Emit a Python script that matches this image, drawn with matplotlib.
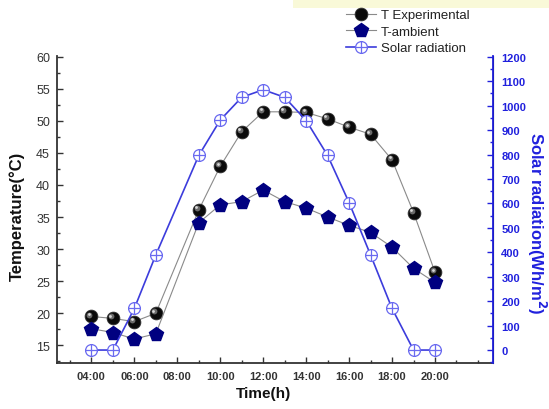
import matplotlib
matplotlib.use("Agg")
import matplotlib.pyplot as plt
import numpy as np
from matplotlib.path import Path
from matplotlib.patches import Rectangle
from matplotlib.ticker import MultipleLocator, FixedLocator
import matplotlib.transforms as mtransforms

plt.rcParams['font.family'] = ['Liberation Sans', 'DejaVu Sans']

# ---- data ----
hours = [4, 5, 6, 7, 9, 10, 11, 12, 13, 14, 15, 16, 17, 18, 19, 20]
t_exp = [19.5, 19.2, 18.7, 20.0, 36.1, 42.9, 48.3, 51.4, 51.4, 51.3, 50.3, 49.0, 47.9, 43.9, 35.7, 26.4]
t_amb = [17.6, 17.0, 16.0, 16.8, 34.1, 36.9, 37.4, 39.2, 37.4, 36.4, 35.0, 33.7, 32.6, 30.3, 27.0, 24.8]
solar = [0, 0, 170, 389, 796, 941, 1034, 1065, 1034, 939, 796, 603, 389, 170, 0, 0]
xtick_pos = [4, 6, 8, 10, 12, 14, 16, 18, 20]
xtick_labels = ['04:00', '06:00', '08:00', '10:00', '12:00', '14:00', '16:00', '18:00', '20:00']

BLUE = '#2020dd'
LINEBLUE = '#3c3cdc'
MKBLUE = '#6a6af0'
NAVY = '#000080'

fig = plt.figure(figsize=(5.49, 4.10), dpi=100)
fig.patches.append(Rectangle((293/549, 401/410), 256/549, 9/410, transform=fig.transFigure,
                             facecolor='#f9f9d8', edgecolor='none', zorder=0))
ax = fig.add_axes([57/549, 46/410, 436/549, 307/410])
ax2 = ax.twinx()

# circle-plus marker
circ = Path.unit_circle()
cross = Path([(-1, 0), (1, 0), (0, -1), (0, 1)],
             [Path.MOVETO, Path.LINETO, Path.MOVETO, Path.LINETO])
oplus = Path.make_compound_path(circ, cross)

l1, = ax.plot(hours, t_exp, color='#8a8a8a', lw=0.8, marker='o', ms=9.2,
              mfc='#0a0a0a', mec='#333333', mew=0.6, zorder=3, label='T Experimental')
# sphere highlight
off1 = mtransforms.offset_copy(ax.transData, fig=fig, x=-1.4, y=1.4, units='points')
off2 = mtransforms.offset_copy(ax.transData, fig=fig, x=-1.8, y=1.8, units='points')
ax.plot(hours, t_exp, ls='none', marker='o', ms=4.2, mfc='#6a6a6a', mec='none',
        transform=off1, zorder=4)
ax.plot(hours, t_exp, ls='none', marker='o', ms=2.0, mfc='#d8d8d8', mec='none',
        transform=off2, zorder=5)

l2, = ax.plot(hours, t_amb, color='#8a8a8a', lw=0.8, marker='p', ms=10,
              mfc=NAVY, mec=NAVY, zorder=3, label='T-ambient')

l3, = ax2.plot(hours, solar, color=LINEBLUE, lw=1.2, marker=oplus, ms=8.5,
               mfc='white', mec=MKBLUE, mew=0.9, zorder=3, label='Solar radiation')

ax.set_xlim(2.4, 22.7)
ax.set_ylim(12.25, 60.1)
ax2.set_ylim(-53, 1203)

ax.xaxis.set_major_locator(FixedLocator(xtick_pos))
ax.set_xticklabels(xtick_labels, fontsize=8, fontweight='bold', color='#222222')
ax.xaxis.set_minor_locator(MultipleLocator(1))
ax.yaxis.set_major_locator(MultipleLocator(5))
ax.yaxis.set_minor_locator(MultipleLocator(2.5))
ax2.yaxis.set_major_locator(MultipleLocator(100))
ax2.yaxis.set_minor_locator(MultipleLocator(50))

ax.tick_params(axis='both', which='major', direction='in', length=4, width=1.0,
               colors='#333333', pad=5)
ax.tick_params(axis='both', which='minor', direction='in', length=2.5, width=1.0,
               colors='#333333')
ax.tick_params(axis='y', labelsize=9, labelcolor='#333333')
ax.tick_params(axis='x', pad=6)
ax.tick_params(right=False, top=False, which='both')
ax2.tick_params(axis='y', which='major', direction='in', length=4, width=1.0,
                colors=BLUE, labelsize=8, pad=6)
ax2.tick_params(axis='y', which='minor', direction='in', length=2.5, width=1.0, colors=BLUE)
for lab in ax2.get_yticklabels():
    lab.set_fontweight('bold')

for a in (ax, ax2):
    a.spines['top'].set_visible(False)
    a.patch.set_visible(False)
ax.spines['left'].set_color('#333333')
ax.spines['bottom'].set_color('#333333')
ax.spines['left'].set_linewidth(1.3)
ax.spines['bottom'].set_linewidth(1.3)
ax2.spines['left'].set_visible(False)
ax2.spines['bottom'].set_visible(False)
ax2.spines['right'].set_color(BLUE)
ax2.spines['right'].set_linewidth(1.3)

fig.text(17/549, 1 - 216/410, 'Temperature(°C)', rotation=90, ha='center', va='center',
         fontsize=12, fontweight='bold', color='#111111')
fig.text(263/549, 1 - 394/410, 'Time(h)', ha='center', va='center',
         fontsize=11, fontweight='bold', color='#111111')
fig.text(537/549, 1 - 223/410, 'Solar radiation(Wh/m$^\\mathbf{2}$)', rotation=270,
         ha='center', va='center', fontsize=12, fontweight='bold', color=BLUE)

leg = fig.legend(handles=[l1, l2, l3], loc='upper left',
                 bbox_to_anchor=(346/549, 1 - 10/410), frameon=False,
                 fontsize=9.5, handlelength=2.3, handletextpad=0.35,
                 labelspacing=0.32, borderpad=0, borderaxespad=0)
for t in leg.get_texts():
    t.set_color('#222222')

fig.savefig('out.png', dpi=100)
